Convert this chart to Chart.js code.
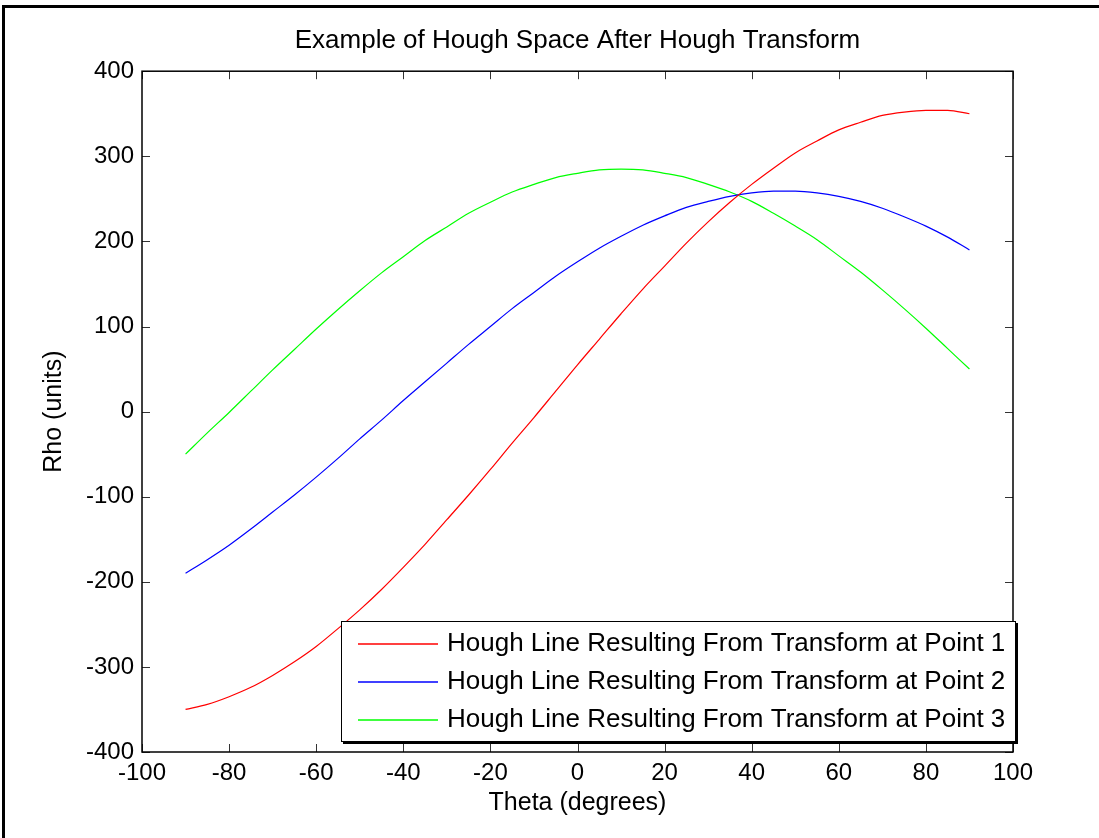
<!DOCTYPE html>
<html lang="en">
  <head>
    <meta charset="UTF-8" />
    <title>Example of Hough Space After Hough Transform</title>
    <script src="https://cdn.jsdelivr.net/npm/chart.js@4.4.0/dist/chart.umd.min.js"></script>
    <style>
      body {
        margin: 0;
        background: #fff;
      }
      #wrap {
        width: 1099px;
        height: 838px;
      }
    </style>
  </head>
  <body>
    <div id="wrap"><canvas id="houghChart" width="1099" height="838"></canvas></div>
    <script>
      // theta in degrees, rho values every 5 degrees
      const theta = [
        -90, -85, -80, -75, -70, -65, -60, -55, -50, -45, -40, -35, -30, -25, -20, -15, -10, -5, 0,
        5, 10, 15, 20, 25, 30, 35, 40, 45, 50, 55, 60, 65, 70, 75, 80, 85, 90,
      ]
      const rhoPoint1 = [
        -350, -344, -335, -324, -310, -294, -276, -255, -233, -209, -183, -156, -127, -98, -68, -37, -7, 24, 55,
        85, 115, 144, 171, 198, 223, 246, 267, 286, 304, 318, 331, 340, 348, 352, 354, 354, 350,
      ]
      const rhoPoint2 = [
        -190, -174, -157, -138, -118, -98, -77, -55, -32, -10, 13, 35, 57, 79, 100, 121, 140, 159, 176,
        192, 206, 219, 230, 240, 247, 253, 257, 259, 259, 257, 253, 247, 239, 229, 218, 205, 190,
      ]
      const rhoPoint3 = [
        -50, -25, -1, 24, 49, 73, 97, 120, 142, 163, 182, 201, 217, 233, 246, 258, 267, 275, 280,
        284, 285, 284, 280, 275, 267, 258, 247, 233, 218, 202, 183, 164, 143, 121, 98, 74, 50,
      ]
      const seriesLabels = [
        "Hough Line Resulting From Transform at Point 1",
        "Hough Line Resulting From Transform at Point 2",
        "Hough Line Resulting From Transform at Point 3",
      ]
      const seriesColors = ["#ff0000", "#0000ff", "#00ff00"]
      const xTickValues = [-100, -80, -60, -40, -20, 0, 20, 40, 60, 80, 100]
      const yTickValues = [-400, -300, -200, -100, 0, 100, 200, 300, 400]

      const fontFamily = "'Liberation Sans', Arial, Helvetica, sans-serif"

      function toPoints(values) {
        return theta.map((t, i) => ({ x: t, y: values[i] }))
      }

      // box, inward ticks, legend and outer frame, MATLAB style
      const matlabAxes = {
        id: "matlabAxes",
        beforeDraw(chart) {
          const ctx = chart.ctx
          ctx.save()
          ctx.fillStyle = "#fff"
          ctx.fillRect(0, 0, chart.width, chart.height)
          ctx.restore()
        },
        afterDraw(chart) {
          const ctx = chart.ctx
          const area = chart.chartArea
          const xs = chart.scales.x
          const ys = chart.scales.y
          const tick = 8
          ctx.save()

          ctx.strokeStyle = "#333"
          ctx.lineWidth = 1
          ctx.beginPath()
          xTickValues.forEach((v) => {
            const px = Math.round(xs.getPixelForValue(v)) + 0.5
            ctx.moveTo(px, area.bottom)
            ctx.lineTo(px, area.bottom - tick)
            ctx.moveTo(px, area.top)
            ctx.lineTo(px, area.top + tick)
          })
          yTickValues.forEach((v) => {
            const py = Math.round(ys.getPixelForValue(v)) + 0.5
            ctx.moveTo(area.left, py)
            ctx.lineTo(area.left + tick, py)
            ctx.moveTo(area.right, py)
            ctx.lineTo(area.right - tick, py)
          })
          ctx.stroke()

          ctx.strokeStyle = "#000"
          ctx.lineWidth = 1.5
          ctx.strokeRect(area.left, area.top, area.right - area.left, area.bottom - area.top)

          // legend
          const boxW = 674
          const boxH = 120
          const bx = Math.round(area.right) + 2 - boxW
          const by = Math.round(area.bottom) - 11 - boxH
          ctx.fillStyle = "#fff"
          ctx.fillRect(bx, by, boxW, boxH)
          ctx.strokeStyle = "#000"
          ctx.lineWidth = 1
          ctx.strokeRect(bx + 0.5, by + 0.5, boxW, boxH)
          ctx.lineWidth = 2
          ctx.beginPath()
          ctx.moveTo(bx + boxW + 2, by + 2)
          ctx.lineTo(bx + boxW + 2, by + boxH + 2)
          ctx.lineTo(bx + 2, by + boxH + 2)
          ctx.stroke()

          ctx.font = "26px " + fontFamily
          ctx.textBaseline = "middle"
          ctx.textAlign = "left"
          chart.data.datasets.forEach((ds, i) => {
            const ry = by + 23 + i * 38
            ctx.strokeStyle = seriesColors[i]
            ctx.lineWidth = 1.5
            ctx.beginPath()
            ctx.moveTo(bx + 17, ry)
            ctx.lineTo(bx + 97, ry)
            ctx.stroke()
            ctx.fillStyle = "#000"
            ctx.fillText(ds.label, bx + 106, ry)
          })

          // outer frame of the figure (left and top edges)
          ctx.fillStyle = "#000"
          ctx.fillRect(2, 5, 3, chart.height - 5)
          ctx.fillRect(2, 5, chart.width - 2, 3)
          ctx.restore()
        },
      }

      const ctx = document.getElementById("houghChart").getContext("2d")
      const houghChart = new Chart(ctx, {
        type: "line",
        data: {
          datasets: [rhoPoint1, rhoPoint2, rhoPoint3].map((values, i) => ({
            label: seriesLabels[i],
            data: toPoints(values),
            borderColor: seriesColors[i],
            backgroundColor: seriesColors[i],
            borderWidth: 1.2,
            pointRadius: 0,
            fill: false,
            cubicInterpolationMode: "monotone",
          })),
        },
        options: {
          responsive: false,
          animation: false,
          devicePixelRatio: 1,
          layout: { padding: { left: 0, top: 0, right: 86, bottom: 0 } },
          plugins: {
            legend: { display: false },
            tooltip: { enabled: false },
            title: {
              display: true,
              fullSize: false,
              text: "Example of Hough Space After Hough Transform",
              color: "#000",
              font: { family: fontFamily, size: 26, weight: "normal" },
              padding: { top: 25, bottom: 15 },
            },
          },
          scales: {
            x: {
              type: "linear",
              min: -100,
              max: 100,
              afterBuildTicks: (s) => {
                s.ticks = xTickValues.map((v) => ({ value: v }))
              },
              afterFit: (s) => {
                s.height = 86
              },
              grid: { display: false, drawTicks: false },
              border: { display: false },
              ticks: {
                color: "#000",
                padding: 7,
                maxRotation: 0,
                autoSkip: false,
                font: { family: fontFamily, size: 24 },
              },
              title: {
                display: true,
                text: "Theta (degrees)",
                color: "#000",
                font: { family: fontFamily, size: 25 },
                padding: { top: 0, bottom: 20 },
              },
            },
            y: {
              type: "linear",
              min: -400,
              max: 400,
              afterBuildTicks: (s) => {
                s.ticks = yTickValues.map((v) => ({ value: v }))
              },
              afterFit: (s) => {
                s.width = 142
              },
              grid: { display: false, drawTicks: false },
              border: { display: false },
              ticks: {
                color: "#000",
                padding: 8,
                autoSkip: false,
                font: { family: fontFamily, size: 24 },
              },
              title: {
                display: true,
                text: "Rho (units)",
                color: "#000",
                font: { family: fontFamily, size: 25 },
                padding: { top: 39, bottom: 0 },
              },
            },
          },
        },
        plugins: [matlabAxes],
      })
    </script>
  </body>
</html>
